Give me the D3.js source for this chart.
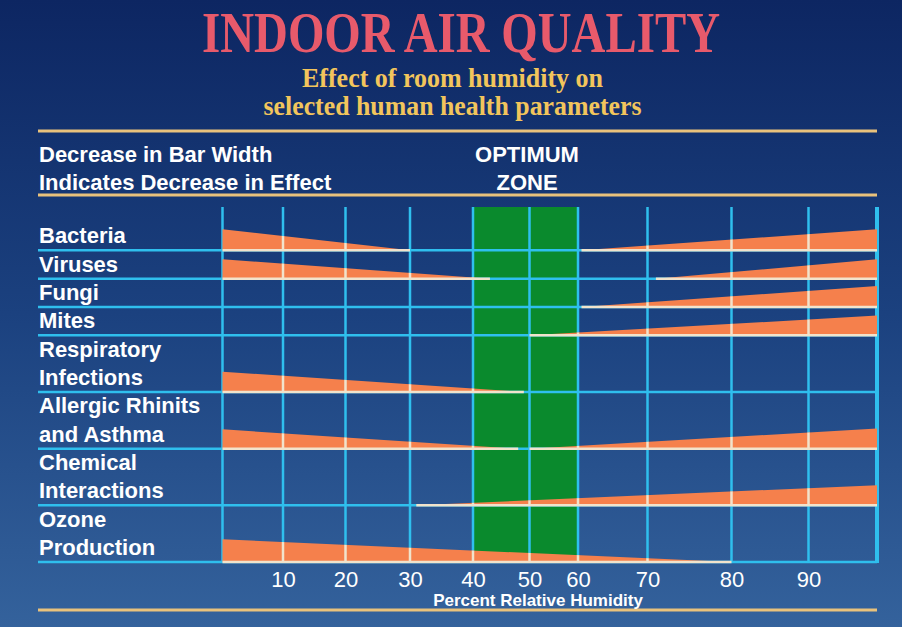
<!DOCTYPE html>
<html>
<head>
<meta charset="utf-8">
<script src="https://cdn.jsdelivr.net/npm/d3@7"></script>
<style>
  html, body { margin: 0; padding: 0; background: #0d2560; }
  svg { display: block; }
</style>
</head>
<body>
<div id="chart"></div>
<script>

// ---- data ----
var params = ["Bacteria", "Viruses", "Fungi", "Mites", "Respiratory Infections",
              "Allergic Rhinits and Asthma", "Chemical Interactions", "Ozone Production"];
var labelLines = [["Bacteria"], ["Viruses"], ["Fungi"], ["Mites"],
                  ["Respiratory", "Infections"], ["Allergic Rhinits", "and Asthma"],
                  ["Chemical", "Interactions"], ["Ozone", "Production"]];
// humidity where the low-humidity effect fades out (null = no effect)
var lowEnd     = [30, 43, null, null, 49, 48, null, 80];
var lowEffect  = [1.0, 0.92, 0, 0, 0.97, 0.92, 0, 1.08];
// humidity where the high-humidity effect starts (null = no effect)
var highStart  = [60.5, 71, 60.5, 50, null, 50, 31, null];
var highEffect = [1.0, 0.92, 1.0, 0.94, 0, 0.96, 0.96, 0];

var humidityStops = [0, 10, 20, 30, 40, 50, 60, 70, 80, 90, 100];
var tickValues = [10, 20, 30, 40, 50, 60, 70, 80, 90];
var optimumZone = [40, 60];

// ---- layout ----
var width = 902, height = 627;
// the slide's grid is hand drawn, columns are not evenly spaced
var gridX = [222.5, 283, 345.5, 410, 473, 529.5, 578, 647.5, 731.5, 808.5, 877];
var gridTop = 207, firstRowTop = 222, gridBottom = 562;
var lineLeft = 38;

var ORANGE = "#f5804c", CYAN = "#2fbfee", CREAM = "#f1e3cc",
    GREEN = "#0a8a2d", YELLOW = "#f2c55c", RULE = "#e9c27c", RED = "#e85a6b";
var SANS = "'Liberation Sans', Arial, Helvetica, sans-serif";
var SERIF = "'Liberation Serif', 'Times New Roman', serif";

var svg = d3.select("#chart").append("svg")
    .attr("width", width)
    .attr("height", height);

var defs = svg.append("defs");
var grad = defs.append("linearGradient")
    .attr("id", "bg")
    .attr("x1", 0).attr("y1", 0).attr("x2", 0).attr("y2", 1);
grad.append("stop").attr("offset", "0%").attr("stop-color", "#0d2662");
grad.append("stop").attr("offset", "50%").attr("stop-color", "#1b417f");
grad.append("stop").attr("offset", "100%").attr("stop-color", "#34629c");

svg.append("rect")
    .attr("width", width)
    .attr("height", height)
    .attr("fill", "url(#bg)");

// ---- scales ----
var x = d3.scaleLinear().domain(humidityStops).range(gridX);

var units = labelLines.map(function(l) { return l.length; });
var cum = [];
units.reduce(function(acc, u) { cum.push(acc + u); return acc + u; }, 0);
var rowY = d3.scaleLinear().domain([0, d3.sum(units)]).range([firstRowTop, gridBottom]);
var h = d3.scaleLinear().domain([0, 1]).range([0, 21]);

// ---- headings ----
svg.append("text")
    .attr("x", 461).attr("y", 52)
    .attr("text-anchor", "middle")
    .attr("textLength", 518).attr("lengthAdjust", "spacingAndGlyphs")
    .attr("font-family", SERIF).attr("font-weight", "bold")
    .attr("font-size", 56).attr("fill", RED)
    .text("INDOOR AIR QUALITY");

var subtitle = [["Effect of room humidity on", 86.5, 301],
                ["selected human health parameters", 115, 378]];
svg.selectAll(".subtitle")
    .data(subtitle)
    .enter().append("text")
    .attr("class", "subtitle")
    .attr("x", 452.5)
    .attr("y", function(d) { return d[1]; })
    .attr("text-anchor", "middle")
    .attr("textLength", function(d) { return d[2]; })
    .attr("lengthAdjust", "spacingAndGlyphs")
    .attr("font-family", SERIF).attr("font-weight", "bold")
    .attr("font-size", 27).attr("fill", YELLOW)
    .text(function(d) { return d[0]; });

svg.selectAll(".rule")
    .data([131, 195, 610])
    .enter().append("line")
    .attr("class", "rule")
    .attr("x1", lineLeft).attr("x2", 877)
    .attr("y1", function(d) { return d; })
    .attr("y2", function(d) { return d; })
    .attr("stroke", RULE).attr("stroke-width", 3);

var header = [["Decrease in Bar Width", 39, 162, "start"],
              ["Indicates Decrease in Effect", 39, 190, "start"],
              ["OPTIMUM", 527, 162, "middle"],
              ["ZONE", 527, 190, "middle"]];
svg.selectAll(".header")
    .data(header)
    .enter().append("text")
    .attr("class", "header")
    .attr("x", function(d) { return d[1]; })
    .attr("y", function(d) { return d[2]; })
    .attr("text-anchor", function(d) { return d[3]; })
    .attr("font-family", SANS).attr("font-weight", "bold")
    .attr("font-size", 22).attr("fill", "#fff")
    .text(function(d) { return d[0]; });

// ---- optimum zone ----
svg.append("rect")
    .attr("x", x(optimumZone[0]))
    .attr("y", gridTop)
    .attr("width", x(optimumZone[1]) - x(optimumZone[0]))
    .attr("height", gridBottom - gridTop)
    .attr("fill", GREEN);

// ---- grid ----
var grid = svg.append("g");
grid.selectAll(".hline")
    .data(params)
    .enter().append("line")
    .attr("x1", lineLeft).attr("x2", x(100))
    .attr("y1", function(d, i) { return rowY(cum[i]); })
    .attr("y2", function(d, i) { return rowY(cum[i]); })
    .attr("stroke", CYAN).attr("stroke-width", 2.5);

grid.selectAll(".vline")
    .data(humidityStops)
    .enter().append("line")
    .attr("x1", function(d) { return x(d); })
    .attr("x2", function(d) { return x(d); })
    .attr("y1", gridTop).attr("y2", gridBottom + 1)
    .attr("stroke", CYAN)
    .attr("stroke-width", function(d) { return d === 100 ? 4 : 2.5; });

// ---- wedges ----
var rows = svg.append("g");
params.forEach(function(name, i) {
    var base = rowY(cum[i]);
    var area = d3.area()
        .x(function(d) { return x(d[0]); })
        .y0(base)
        .y1(function(d) { return base - h(d[1]); });

    var shapes = [];
    if (lowEnd[i] !== null) shapes.push([[0, lowEffect[i]], [lowEnd[i], 0]]);
    if (highStart[i] !== null) shapes.push([[highStart[i], 0], [100, highEffect[i]]]);

    var clipId = "clip" + i;
    var clip = defs.append("clipPath").attr("id", clipId);
    shapes.forEach(function(s) {
        clip.append("path").attr("d", area(s));
    });

    var g = rows.append("g");
    shapes.forEach(function(s) {
        g.append("path")
            .attr("d", area(s))
            .attr("fill", ORANGE);
        g.append("line")
            .attr("x1", x(s[0][0])).attr("x2", x(s[1][0]))
            .attr("y1", base).attr("y2", base)
            .attr("stroke", CREAM).attr("stroke-width", 2.5);
    });

    // gridlines look pale where they cross the bars
    g.append("g")
        .attr("clip-path", "url(#" + clipId + ")")
        .selectAll("line")
        .data(humidityStops.slice(1, -1))
        .enter().append("line")
        .attr("x1", function(d) { return x(d); })
        .attr("x2", function(d) { return x(d); })
        .attr("y1", base - 30).attr("y2", base)
        .attr("stroke", CREAM).attr("stroke-width", 2.5);
});

// ---- row labels ----
var labels = svg.append("g")
    .attr("font-family", SANS).attr("font-weight", "bold")
    .attr("font-size", 22).attr("fill", "#fff");
labelLines.forEach(function(lines, i) {
    var base = rowY(cum[i]);
    lines.forEach(function(t, j) {
        labels.append("text")
            .attr("x", 39)
            .attr("y", base - 7 - 28.3 * (lines.length - 1 - j))
            .text(t);
    });
});

// ---- humidity axis ----
var axis = svg.append("g")
    .attr("transform", "translate(0," + (gridBottom + 9) + ")")
    .call(d3.axisBottom(x).tickValues(tickValues).tickSize(0).tickPadding(0));
axis.select(".domain").remove();
axis.selectAll("text")
    .attr("dy", "0.72em")
    .attr("font-family", SANS).attr("font-size", 22)
    .attr("fill", "#fff");

svg.append("text")
    .attr("x", 538).attr("y", 606)
    .attr("text-anchor", "middle")
    .attr("font-family", SANS).attr("font-weight", "bold")
    .attr("font-size", 17).attr("fill", "#fff")
    .text("Percent Relative Humidity");

</script>
</body>
</html>
